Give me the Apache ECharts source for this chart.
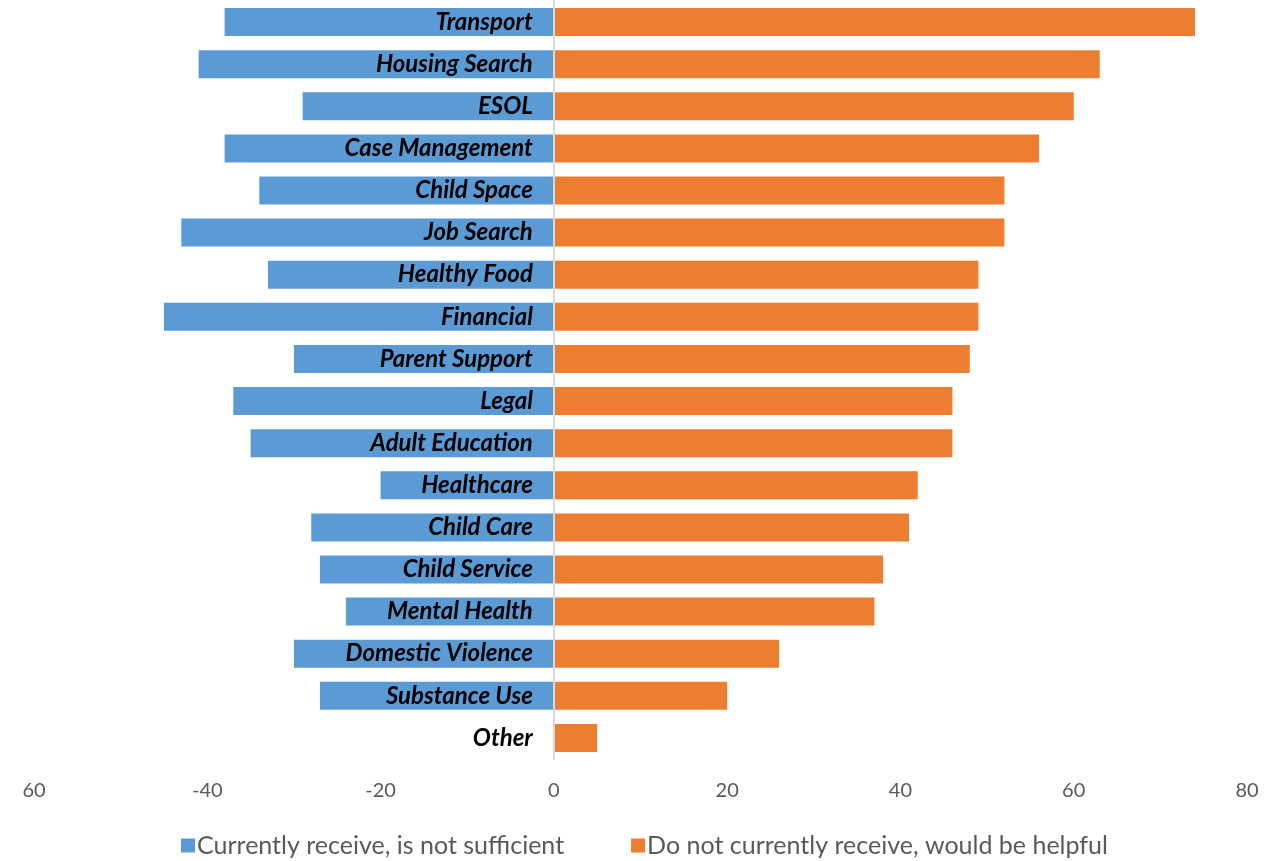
<!DOCTYPE html>
<html><head><meta charset="utf-8">
<script src="https://cdn.jsdelivr.net/npm/echarts@6/dist/echarts.min.js"></script>
<style>html,body{margin:0;padding:0;background:#fff}#c{width:1270px;height:861px}</style>
</head><body><div id="c"></div>
<script>
const categories = ['Transport','Housing Search','ESOL','Case Management','Child Space','Job Search','Healthy Food','Financial','Parent Support','Legal','Adult Education','Healthcare','Child Care','Child Service','Mental Health','Domestic Violence','Substance Use','Other'];
const notSufficient = [38,41,29,38,34,43,33,45,30,37,35,20,28,27,24,30,27,0];
const wouldHelp = [74,63,60,56,52,52,49,49,48,46,46,42,41,38,37,26,20,5];
const seriesNames = ['Currently receive, is not sufficient','Do not currently receive, would be helpful'];
const tickLabels = {'-60':'60','-40':'-40','-20':'-20','0':'0','20':'20','40':'40','60':'60','80':'80'};

const chart = echarts.init(document.getElementById('c'));
chart.setOption({
  animation:false,
  color:['#5B9BD5','#ED7D31'],
  grid:{left:34,right:23,top:1,bottom:102,containLabel:false,outerBoundsMode:'none'},
  legend:{top:828,left:176,itemWidth:14,itemHeight:14,itemGap:67,icon:'rect',
    textStyle:{fontFamily:'Lato',fontSize:25,color:'#595959',padding:[0,0,0,-3]},data:seriesNames},
  xAxis:{type:'value',min:-60,max:80,interval:20,
    axisLine:{show:false},axisTick:{show:false},splitLine:{show:false},
    axisLabel:{margin:22,fontFamily:'Lato',fontSize:20,color:'#595959',formatter:v=>tickLabels[String(v)]}},
  yAxis:{type:'category',data:categories,inverse:true,z:10,
    axisLine:{onZero:true,lineStyle:{color:'#D9D9D9',width:2}},axisTick:{show:false},
    axisLabel:{show:false}},
  series:[
    {name:seriesNames[0],type:'bar',data:notSufficient.map(v=>-v),barWidth:28,barGap:'-100%'},
    {name:seriesNames[1],type:'bar',data:wouldHelp,barWidth:28},
    {name:'labels',type:'bar',data:categories.map(()=>0),barWidth:28,barGap:'-100%',z:5,
      itemStyle:{color:'transparent'},silent:true,legendHoverLink:false,
      label:{show:true,position:'left',distance:21,formatter:p=>p.name,
        fontFamily:'Lato',fontSize:24,fontWeight:'bold',fontStyle:'italic',color:'#000'}}
  ]
});
</script></body></html>
